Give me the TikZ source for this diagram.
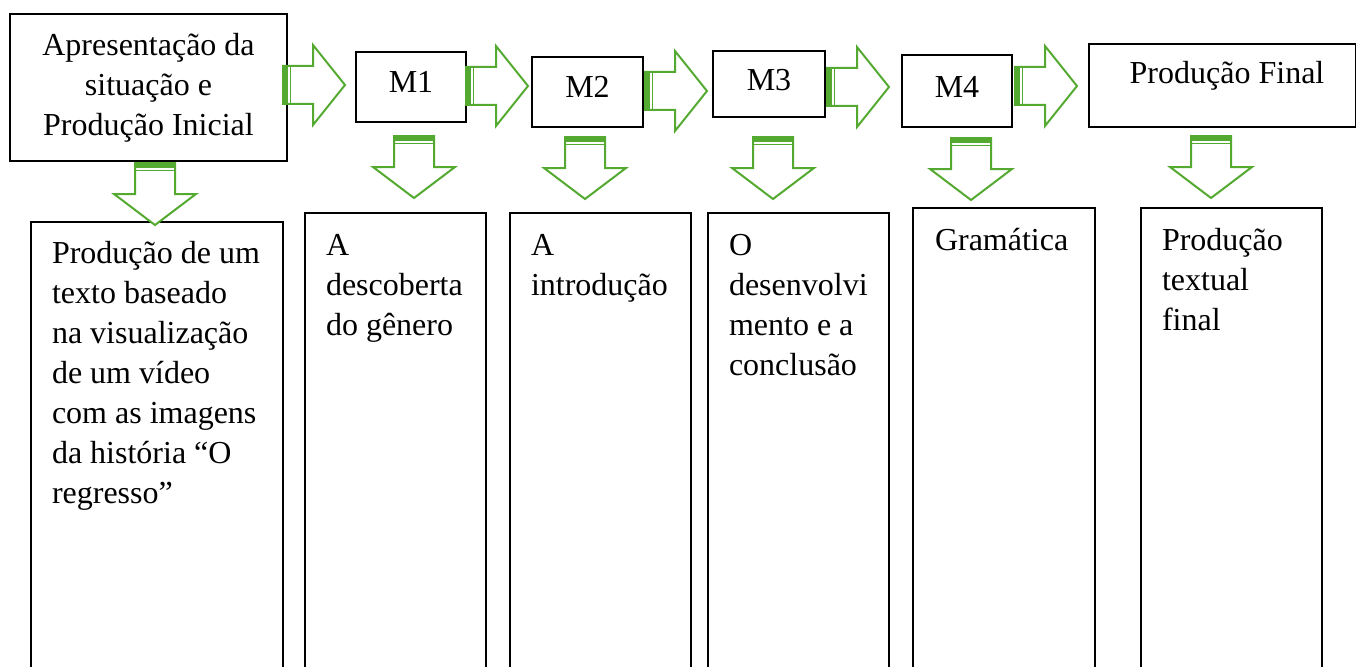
\documentclass[tikz,border=0pt]{standalone}
\usepackage{fontspec}
\setmainfont{Liberation Serif}
\definecolor{grn}{RGB}{84,170,48}
\tikzset{
  box/.style={draw=black,line width=2.4pt,inner sep=0pt,outer sep=0pt},
  txt/.style={font=\fontsize{32}{40}\selectfont,inner sep=0pt,outer sep=0pt},
  darr/.pic={
    \draw[grn,line width=2pt,fill=white] (-20,0) -- (20,0) -- (20,31) -- (41,31) -- (0,62) -- (-41,31) -- (-20,31) -- cycle;
    \fill[grn] (-21,-1) rectangle (21,5);
    \draw[grn,line width=1.7pt] (-20,7.5) -- (20,7.5);
  },
  rarr/.pic={
    \draw[grn,line width=2pt,fill=white] (0,-19) -- (0,19) -- (30,19) -- (30,40) -- (62,0) -- (30,-40) -- (30,-19) -- cycle;
    \fill[grn] (-1,-20) rectangle (5,20);
    \draw[grn,line width=1.7pt] (7.5,-19) -- (7.5,19);
  }
}
\begin{document}
\begin{tikzpicture}[x=1pt,y=-1pt]
\useasboundingbox (0,0) rectangle (1356,666);
\clip (0,0) rectangle (1356,666);
% top boxes
\node[box,minimum width=277pt,minimum height=147pt] (b0) at (148.5,87.5) {};
\node[box,minimum width=110pt,minimum height=70pt] (b1) at (411,87) {};
\node[box,minimum width=111pt,minimum height=70pt] (b2) at (587.5,92) {};
\node[box,minimum width=112pt,minimum height=66pt] (b3) at (769,84) {};
\node[box,minimum width=110pt,minimum height=72pt] (b4) at (957,91) {};
\node[box,minimum width=267pt,minimum height=83pt] (b5) at (1222.5,85.5) {};
\node[txt,anchor=base,text width=270pt,align=flush center] (t0) at (148.5,56) {Apresentação da\\situação e\\Produção Inicial};
\node[txt,anchor=base] (t1) at (411,93) {M1};
\node[txt,anchor=base] (t2) at (587.5,98) {M2};
\node[txt,anchor=base] (t3) at (769,91) {M3};
\node[txt,anchor=base] (t4) at (957,98) {M4};
\node[txt,anchor=base] (t5) at (1227,84) {Produção Final};
% bottom boxes
\node[box,minimum width=252pt,minimum height=478pt] (c0) at (157,461) {};
\node[box,minimum width=181pt,minimum height=487pt] (c1) at (395.5,456.5) {};
\node[box,minimum width=181pt,minimum height=487pt] (c2) at (600.5,456.5) {};
\node[box,minimum width=181pt,minimum height=487pt] (c3) at (798.5,456.5) {};
\node[box,minimum width=182pt,minimum height=492pt] (c4) at (1004,454) {};
\node[box,minimum width=181pt,minimum height=492pt] (c5) at (1231.5,454) {};
\node[txt,anchor=base west,text width=240pt,align=flush left] (u0) at (52,263) {Produção de um\\texto baseado\\na visualização\\de um vídeo\\com as imagens\\da história “O\\regresso”};
\node[txt,anchor=base west,text width=160pt,align=flush left] (u1) at (326,255) {A\\descoberta\\do gênero};
\node[txt,anchor=base west,text width=160pt,align=flush left] (u2) at (531,255) {A\\introdução};
\node[txt,anchor=base west,text width=160pt,align=flush left] (u3) at (729,255) {O\\desenvolvi\\mento e a\\conclusão};
\node[txt,anchor=base west,text width=160pt,align=flush left] (u4) at (935,250) {Gramática};
\node[txt,anchor=base west,text width=160pt,align=flush left] (u5) at (1162,250) {Produção\\textual\\final};
% right arrows
\pic (r1) at (283,85) {rarr};
\pic (r2) at (466,86) {rarr};
\pic (r3) at (645,91) {rarr};
\pic (r4) at (827,87) {rarr};
\pic (r5) at (1015,86) {rarr};
% down arrows
\pic (d0) at (155,163) {darr};
\pic (d1) at (414,136) {darr};
\pic (d2) at (585,137) {darr};
\pic (d3) at (773,137) {darr};
\pic (d4) at (971,138) {darr};
\pic (d5) at (1211,136) {darr};
\end{tikzpicture}
\end{document}
